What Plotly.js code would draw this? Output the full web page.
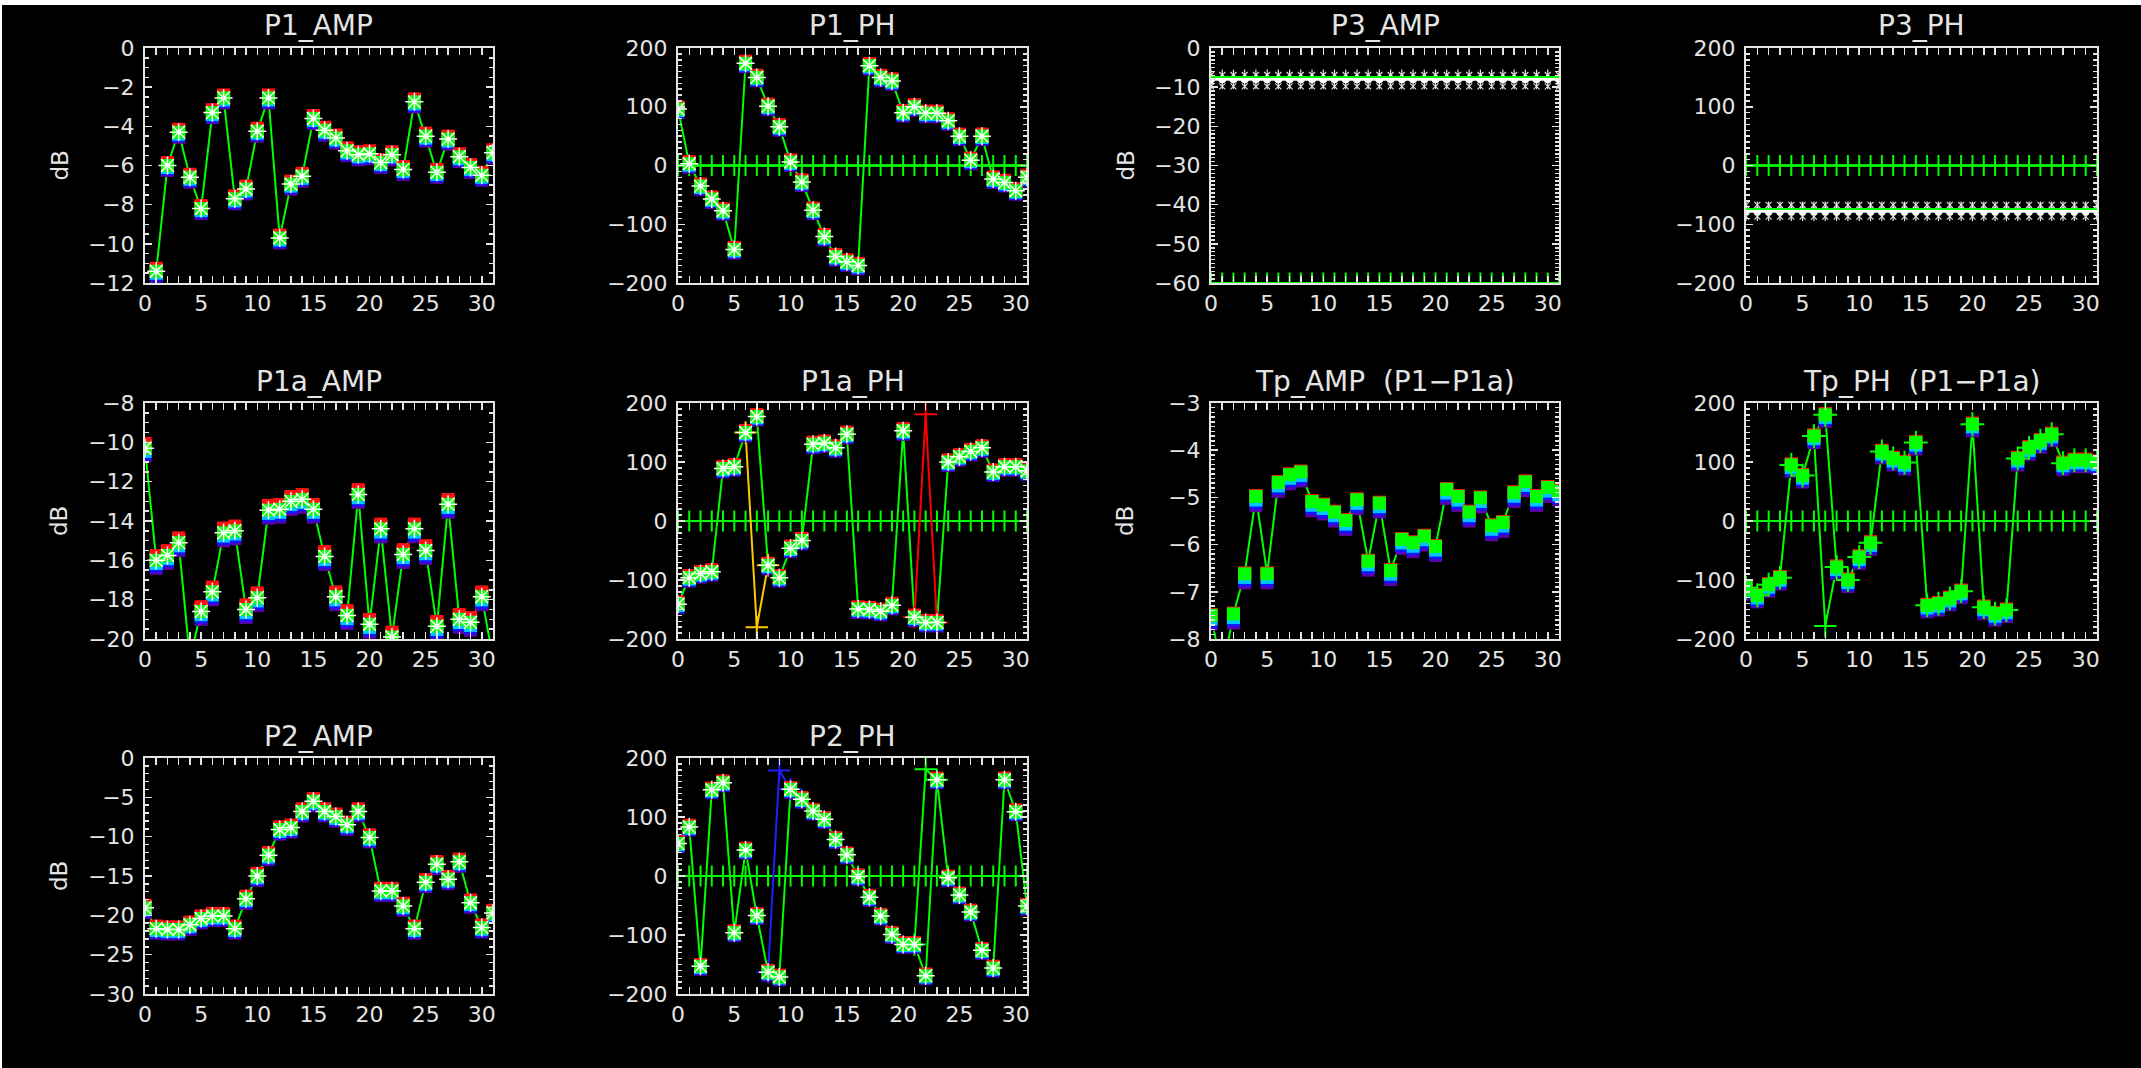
<!DOCTYPE html>
<html><head><meta charset="utf-8">
<script src="https://cdn.plot.ly/plotly-3.0.1.min.js"></script>
<style>
html,body{margin:0;padding:0;background:#ffffff;overflow:hidden;}
#chart{position:absolute;left:2px;top:5px;width:2139px;height:1063px;background:#000;}
</style></head><body><div id="chart"></div>
<script>
// ---------------- DATA ----------------
const CH = [0,1,2,3,4,5,6,7,8,9,10,11,12,13,14,15,16,17,18,19,20,21,22,23,24,25,26,27,28,29,30,31];

const P1_AMP = [-12.6,-11.4,-6.0,-4.3,-6.6,-8.2,-3.3,-2.55,-7.7,-7.2,-4.25,-2.55,-9.7,-6.95,-6.55,-3.6,-4.2,-4.6,-5.25,-5.45,-5.4,-5.85,-5.45,-6.2,-2.75,-4.5,-6.35,-4.65,-5.55,-6.1,-6.5,-5.35];
const P1_PH = [96,3,-35,-57,-77,-143,174,150,101,66,6,-28,-76,-121,-155,-164,-170,170,150,144,90,100,89,89,76,50,9,50,-23,-29,-43,-20];

const P3_AMP_LINE = [-7.4,-7.4,-7.4,-7.4,-7.4,-7.4,-7.4,-7.4,-7.4,-7.4,-7.4,-7.4,-7.4,-7.4,-7.4,-7.4,-7.4,-7.4,-7.4,-7.4,-7.4,-7.4,-7.4,-7.4,-7.4,-7.4,-7.4,-7.4,-7.4,-7.4,-7.4,-7.4];
const P3_AMP_MEAN = [-8,-8,-8,-8,-8,-8,-8,-8,-8,-8,-8,-8,-8,-8,-8,-8,-8,-8,-8,-8,-8,-8,-8,-8,-8,-8,-8,-8,-8,-8,-8,-8];
const P3_AMP_HI = [-6.9,-6.9,-6.9,-6.9,-6.9,-6.9,-6.9,-6.9,-6.9,-6.9,-6.9,-6.9,-6.9,-6.9,-6.9,-6.9,-6.9,-6.9,-6.9,-6.9,-6.9,-6.9,-6.9,-6.9,-6.9,-6.9,-6.9,-6.9,-6.9,-6.9,-6.9,-6.9];
const P3_AMP_LO = [-9.8,-9.8,-9.8,-9.8,-9.8,-9.8,-9.8,-9.8,-9.8,-9.8,-9.8,-9.8,-9.8,-9.8,-9.8,-9.8,-9.8,-9.8,-9.8,-9.8,-9.8,-9.8,-9.8,-9.8,-9.8,-9.8,-9.8,-9.8,-9.8,-9.8,-9.8,-9.8];
const P3_AMP_REF = [-60,-60,-60,-60,-60,-60,-60,-60,-60,-60,-60,-60,-60,-60,-60,-60,-60,-60,-60,-60,-60,-60,-60,-60,-60,-60,-60,-60,-60,-60,-60,-60];

const P3_PH_LINE = [-74,-74,-74,-74,-74,-74,-74,-74,-74,-74,-74,-74,-74,-74,-74,-74,-74,-74,-74,-74,-74,-74,-74,-74,-74,-74,-74,-74,-74,-74,-74,-74];
const P3_PH_MEAN = [-78,-78,-78,-78,-78,-78,-78,-78,-78,-78,-78,-78,-78,-78,-78,-78,-78,-78,-78,-78,-78,-78,-78,-78,-78,-78,-78,-78,-78,-78,-78,-78];
const P3_PH_HI = [-67,-67,-67,-67,-67,-67,-67,-67,-67,-67,-67,-67,-67,-67,-67,-67,-67,-67,-67,-67,-67,-67,-67,-67,-67,-67,-67,-67,-67,-67,-67,-67];
const P3_PH_LO = [-87,-87,-87,-87,-87,-87,-87,-87,-87,-87,-87,-87,-87,-87,-87,-87,-87,-87,-87,-87,-87,-87,-87,-87,-87,-87,-87,-87,-87,-87,-87,-87];

const PH_REF = [0,0,0,0,0,0,0,0,0,0,0,0,0,0,0,0,0,0,0,0,0,0,0,0,0,0,0,0,0,0,0,0];

const P1a_AMP = [-10.3,-16.0,-15.75,-15.1,-21.0,-18.6,-17.6,-14.6,-14.5,-18.5,-17.9,-13.45,-13.4,-13.0,-12.9,-13.4,-15.8,-17.85,-18.8,-12.65,-19.25,-14.4,-19.9,-15.7,-14.4,-15.5,-19.35,-13.15,-19.0,-19.15,-17.85,-21.0];
const P1a_PH = [-141,-96,-89,-86,89,92,150,177,-75,-96,-46,-33,130,132,124,147,-149,-150,-153,-143,153,-163,-172,-172,100,109,118,124,83,92,92,85];
const P1a_PH_YELLOW_X = [6,7,8];
const P1a_PH_YELLOW_Y = [150,-180,-75];
const P1a_PH_RED_X = [21,22,23];
const P1a_PH_RED_Y = [-163,181,-172];

const Tp_AMP = [-7.5,-8.7,-7.47,-6.62,-4.98,-6.62,-4.68,-4.52,-4.46,-5.09,-5.16,-5.31,-5.49,-5.05,-6.35,-5.12,-6.55,-5.89,-5.96,-5.82,-6.04,-4.83,-4.98,-5.31,-5.01,-5.6,-5.53,-4.9,-4.67,-4.98,-4.79,-4.87];
const Tp_PH = [-113,-126,-108,-96,95,77,144,180,-78,-100,-61,-37,118,106,99,133,-143,-140,-131,-119,164,-146,-157,-151,106,124,136,147,98,103,103,100];
const Tp_PH_ALT_X = [6,7,8];
const Tp_PH_ALT_Y = [144,-178,-78];

const P2_AMP = [-19.05,-21.7,-21.8,-21.8,-21.2,-20.4,-20.1,-20.1,-21.7,-17.9,-15.0,-12.35,-9.1,-8.85,-6.8,-5.5,-6.8,-7.45,-8.5,-6.8,-10.1,-16.9,-16.9,-18.8,-21.7,-15.8,-13.5,-15.4,-13.2,-18.4,-21.55,-19.7];
const P2_PH = [55,83,-153,146,158,-96,44,-67,-163,-171,147,130,110,96,62,36,-1,-36,-68,-99,-116,-116,-169,163,-3,-32,-61,-126,-156,163,109,-51];
const P2_PH_BLUE_X = [8,9,10];
const P2_PH_BLUE_Y = [-163,179,147];
const P2_PH_GREEN_X = [21,22,23];
const P2_PH_GREEN_Y = [-116,181,163];

const TITLES = ['P1_AMP','P1_PH','P3_AMP','P3_PH','P1a_AMP','P1a_PH','Tp_AMP\u00a0\u00a0(P1\u2212P1a)','Tp_PH\u00a0\u00a0(P1\u2212P1a)','P2_AMP','P2_PH'];
const Y_UNIT = 'dB';

// ---------------- STYLE / LAYOUT ----------------
const GREEN = '#00ff00', WHITE = '#ffffff', FG = '#e4e4e4';
const FONT = 'DejaVu Sans';
const OX = 2, OY = 5, W = 2139, H = 1063;
const px2x = p => (p - OX) / W;
const py2y = p => 1 - (p - OY) / H;
const COLS = [[145,493],[678,1027],[1211,1559],[1746,2097]];
const ROWS = [[48,283],[403,639],[758,994]];
// colour, vertical pixel offset of that series' marks (style only)
const STACK = [['#5a00a8',-5],['#1414ff',-3.5],['#00c4ff',-2],['#ffd400',1.5],['#ff1010',3]];

const PANELS = [
  {t:0, y:P1_AMP, range:[-12,0], dtick:2, minor:0.5, row:0, col:0, unit:true, style:'star', up:1.0, down:1.0},
  {t:1, y:P1_PH, range:[-200,200], dtick:100, minor:10, row:0, col:1, style:'star', up:0.7, down:0.7, ref:PH_REF},
  {t:2, range:[-60,0], dtick:10, minor:1, row:0, col:2, unit:true, style:'flat', ref:P3_AMP_REF,
     line:P3_AMP_LINE, mean:P3_AMP_MEAN, hi:P3_AMP_HI, lo:P3_AMP_LO},
  {t:3, range:[-200,200], dtick:100, minor:10, row:0, col:3, style:'flat', ref:PH_REF,
     line:P3_PH_LINE, mean:P3_PH_MEAN, hi:P3_PH_HI, lo:P3_PH_LO},
  {t:4, y:P1a_AMP, range:[-20,-8], dtick:2, minor:0.5, row:1, col:0, unit:true, style:'star', up:1.6, down:1.6},
  {t:5, y:P1a_PH, range:[-200,200], dtick:100, minor:10, row:1, col:1, style:'star', up:0.7, down:0.7, ref:PH_REF,
     extra:[{x:P1a_PH_YELLOW_X, y:P1a_PH_YELLOW_Y, c:'#ffc800'},{x:P1a_PH_RED_X, y:P1a_PH_RED_Y, c:'#ff0000'}]},
  {t:6, y:Tp_AMP, range:[-8,-3], dtick:1, minor:0.1, row:1, col:2, unit:true, style:'sq', up:0.3, down:1.8},
  {t:7, y:Tp_PH, range:[-200,200], dtick:100, minor:10, row:1, col:3, style:'plus', up:0.4, down:1.3, ref:PH_REF,
     extra:[{x:Tp_PH_ALT_X, y:Tp_PH_ALT_Y, c:GREEN}]},
  {t:8, y:P2_AMP, range:[-30,0], dtick:5, minor:1, row:2, col:0, unit:true, style:'star', up:0.9, down:0.9},
  {t:9, y:P2_PH, range:[-200,200], dtick:100, minor:10, row:2, col:1, style:'star', up:0.6, down:0.6, ref:PH_REF,
     extra:[{x:P2_PH_BLUE_X, y:P2_PH_BLUE_Y, c:'#2020ff'},{x:P2_PH_GREEN_X, y:P2_PH_GREEN_Y, c:GREEN}]}
];

const data = [];
const layout = {
  width: W, height: H, margin:{l:0,r:0,t:0,b:0},
  paper_bgcolor:'#000000', plot_bgcolor:'#000000',
  showlegend:false, hovermode:false,
  font:{family:FONT, color:FG, size:22},
  annotations:[]
};

const AX_COMMON = {
  showline:true, linecolor:FG, linewidth:2, mirror:'allticks',
  ticks:'inside', ticklen:7, tickwidth:1.5, tickcolor:FG,
  showgrid:false, zeroline:false, fixedrange:true,
  tickfont:{family:FONT, size:22, color:FG}
};

PANELS.forEach((p, i) => {
  const xn = 10 + i;
  const xid = 'x' + xn, xkey = 'xaxis' + xn;
  const base = 10 + i * 7;           // all ids two digits -> drawing order == id order
  const yid = n => 'y' + n, ykey = n => 'yaxis' + n;
  const c = COLS[p.col], r = ROWS[p.row];
  const lo = p.range[0], hi = p.range[1];
  const hpx = r[1] - r[0];

  layout[xkey] = Object.assign({}, AX_COMMON, {
    domain:[px2x(c[0]), px2x(c[1])], anchor:yid(base),
    range:[0,31], autorange:false, tick0:0, dtick:5, ticklabelstandoff:0,
    minor:{tick0:0, dtick:1, ticks:'inside', ticklen:4, tickwidth:1.5, tickcolor:FG, showgrid:false}
  });
  layout[ykey(base)] = Object.assign({}, AX_COMMON, {
    domain:[py2y(r[1]), py2y(r[0])], anchor:xid,
    range:[lo, hi], autorange:false, tick0:0, dtick:p.dtick, ticklabelstandoff:4,
    minor:{tick0:0, dtick:p.minor, ticks:'inside', ticklen:4, tickwidth:1.5, tickcolor:FG, showgrid:false}
  });
  for (let k = 1; k <= 6; k++) {
    let sh = 0;
    if (k <= 5 && p.up !== undefined) {
      const off = STACK[k-1][1];
      sh = off * (off > 0 ? p.up : p.down);
    }
    const d = sh * (hi - lo) / hpx;
    layout[ykey(base + k)] = {overlaying:yid(base), anchor:xid, range:[lo - d, hi - d],
      autorange:false, visible:false, fixedrange:true};
  }

  // reference line with + markers
  if (p.ref) {
    data.push({x:CH, y:p.ref, xaxis:xid, yaxis:yid(base), mode:'lines+markers',
      line:{color:GREEN, width:2},
      marker:{symbol:'cross-thin', size:15, color:GREEN, line:{color:GREEN, width:2}}});
  }

  if (p.style === 'flat') {
    const m = yid(base + 6);
    data.push({x:CH, y:p.hi, xaxis:xid, yaxis:m, mode:'markers',
      marker:{symbol:'x-thin', size:6, color:'#dcdcdc', line:{color:'#dcdcdc', width:1.2}}});
    data.push({x:CH, y:p.lo, xaxis:xid, yaxis:m, mode:'markers',
      marker:{symbol:'x-thin', size:6, color:'#dcdcdc', line:{color:'#dcdcdc', width:1.2}}});
    data.push({x:CH, y:p.mean, xaxis:xid, yaxis:m, mode:'markers',
      marker:{symbol:'line-ns', size:14, color:'#e8e8e8', line:{color:'#e8e8e8', width:1.2}}});
    data.push({x:CH, y:p.mean, xaxis:xid, yaxis:m, mode:'lines+markers',
      line:{color:WHITE, width:3},
      marker:{symbol:'circle', size:8, color:WHITE}});
    data.push({x:CH, y:p.line, xaxis:xid, yaxis:m, mode:'lines',
      line:{color:GREEN, width:2}});
    return;
  }

  // main connecting line on the base axis (true scale)
  data.push({x:CH, y:p.y, xaxis:xid, yaxis:yid(base), mode:'lines',
    line:{color:GREEN, width:2}});
  // diverging individual series
  (p.extra || []).forEach(e => {
    data.push({x:e.x, y:e.y, xaxis:xid, yaxis:yid(base), mode:'lines+markers',
      line:{color:e.c, width:2},
      marker:{symbol:'cross-thin', size:16, color:e.c, line:{color:e.c, width:2}}});
  });

  // coloured stack of individual series
  for (let k = 1; k <= 5; k++) {
    const col = STACK[k-1][0];
    data.push({x:CH, y:p.y, xaxis:xid, yaxis:yid(base + k), mode:'markers',
      marker:{symbol:'square', size:13, color:col}});
  }
  const m = yid(base + 6);
  data.push({x:CH, y:p.y, xaxis:xid, yaxis:m, mode:'markers',
    marker:{symbol:'square', size:13, color:GREEN}});
  if (p.style === 'star') {
    data.push({x:CH, y:p.y, xaxis:xid, yaxis:m, mode:'markers',
      marker:{symbol:'asterisk', size:15, color:WHITE, line:{color:WHITE, width:1.5}}});
    data.push({x:CH, y:p.y, xaxis:xid, yaxis:m, mode:'markers',
      marker:{symbol:'circle', size:4, color:WHITE}});
  } else if (p.style === 'plus') {
    data.push({x:CH, y:p.y, xaxis:xid, yaxis:m, mode:'markers',
      marker:{symbol:'cross-thin', size:17, color:GREEN, line:{color:GREEN, width:2}}});
  }
});

// panel titles and unit labels
PANELS.forEach(p => {
  const c = COLS[p.col], r = ROWS[p.row];
  layout.annotations.push({text:TITLES[p.t], xref:'paper', yref:'paper',
    x:px2x((c[0] + c[1]) / 2), y:py2y(r[0] - 22), xanchor:'center', yanchor:'middle',
    showarrow:false, font:{family:FONT, size:28, color:FG}});
  if (p.unit) {
    layout.annotations.push({text:Y_UNIT, xref:'paper', yref:'paper',
      x:px2x(c[0] - 86), y:py2y((r[0] + r[1]) / 2), xanchor:'center', yanchor:'middle',
      textangle:-90, showarrow:false, font:{family:FONT, size:23, color:FG}});
  }
});

Plotly.newPlot('chart', data, layout, {staticPlot:true, displayModeBar:false});
</script></body></html>
